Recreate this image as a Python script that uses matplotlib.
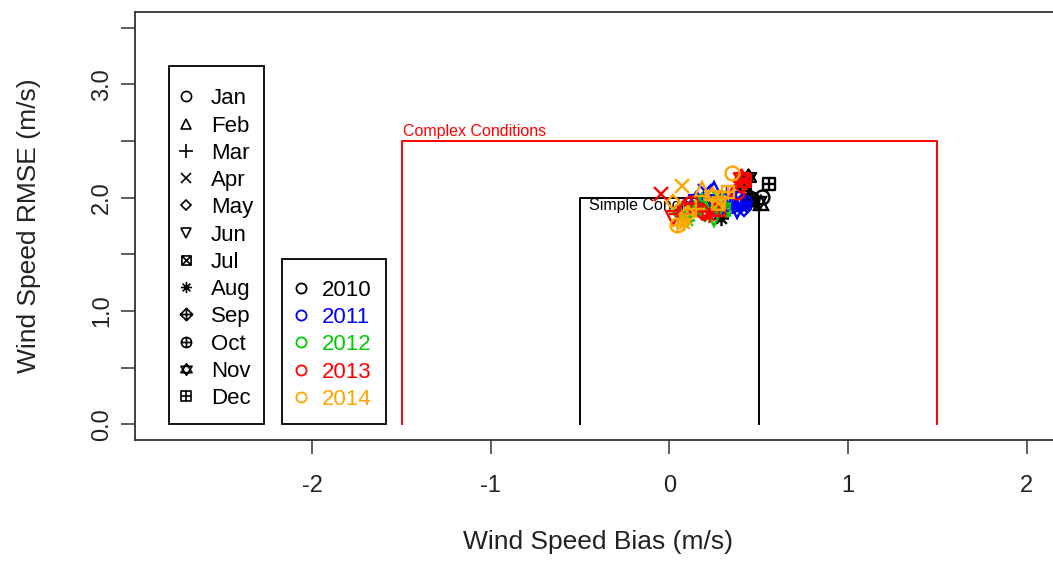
import numpy as np
from matplotlib import pyplot as plt
from matplotlib.path import Path

plt.rcParams['font.family'] = ['Liberation Sans', 'DejaVu Sans']

months = ["Jan", "Feb", "Mar", "Apr", "May", "Jun",
          "Jul", "Aug", "Sep", "Oct", "Nov", "Dec"]
years = ["2010", "2011", "2012", "2013", "2014"]
year_colors = ["black", "#0000FF", "#00CD00", "#FF0000", "#FFA500"]

# monthly wind speed bias / RMSE (m/s), Jan..Dec
bias_2010 = [0.52, 0.51, 0.45, 0.40, 0.44, 0.50, 0.42, 0.29, 0.45, 0.46, 0.44, 0.56]
rmse_2010 = [2.01, 1.95, 1.98, 1.93, 1.96, 1.94, 2.12, 1.82, 2.00, 1.99, 2.18, 2.12]
bias_2011 = [0.42, 0.25, 0.32, 0.20, 0.42, 0.38, 0.26, 0.35, 0.40, 0.28, 0.15, 0.37]
rmse_2011 = [1.96, 2.08, 2.03, 2.06, 1.90, 1.88, 1.97, 1.93, 1.95, 1.92, 1.99, 2.00]
bias_2012 = [0.22, 0.18, 0.12, 0.28, 0.20, 0.25, 0.30, 0.10, 0.16, 0.06, 0.27, 0.14]
rmse_2012 = [1.93, 1.97, 1.84, 2.00, 1.86, 1.81, 1.90, 1.80, 1.93, 1.88, 1.95, 1.89]
bias_2013 = [0.38, 0.08, 0.05, -0.05, 0.40, 0.02, 0.42, 0.22, 0.18, 0.12, 0.40, 0.28]
rmse_2013 = [2.05, 1.92, 1.86, 2.03, 2.10, 1.82, 2.16, 1.85, 1.88, 1.95, 2.18, 1.89]
bias_2014 = [0.35, 0.18, 0.15, 0.07, 0.02, 0.30, 0.27, 0.08, 0.10, 0.04, 0.24, 0.33]
rmse_2014 = [2.22, 2.08, 1.90, 2.10, 1.96, 1.99, 1.95, 1.78, 1.86, 1.76, 2.02, 2.05]

bias_all = [bias_2010, bias_2011, bias_2012, bias_2013, bias_2014]
rmse_all = [rmse_2010, rmse_2011, rmse_2012, rmse_2013, rmse_2014]

# (bias limit, rmse limit) of the two condition boxes
simple_limits = (0.5, 2.0)
complex_limits = (1.5, 2.5)

# --- R-like point symbols (pch 1..12) ---
M, L, C = Path.MOVETO, Path.LINETO, Path.CLOSEPOLY
square = Path([(-1, -1), (1, -1), (1, 1), (-1, 1), (-1, -1)], [M, L, L, L, C])
cross = Path([(-1, -1), (1, 1), (-1, 1), (1, -1)], [M, L, M, L])
plus = Path([(-1, 0), (1, 0), (0, -1), (0, 1)], [M, L, M, L])
diag = Path([(-0.7, -0.7), (0.7, 0.7), (-0.7, 0.7), (0.7, -0.7)], [M, L, M, L])
diamond = Path([(-1, 0), (0, -1), (1, 0), (0, 1), (-1, 0)], [M, L, L, L, C])
circle = Path.unit_circle()
tri_up = Path([(0, 1), (-0.95, -0.55), (0.95, -0.55), (0, 1)], [M, L, L, C])
tri_dn = Path([(0, -1), (-0.95, 0.55), (0.95, 0.55), (0, -1)], [M, L, L, C])

month_markers = [
    "o", "^", "+", "x", "D", "v",
    Path.make_compound_path(square, cross),
    Path.make_compound_path(plus, diag),
    Path.make_compound_path(diamond, plus),
    Path.make_compound_path(circle, plus),
    Path.make_compound_path(tri_up, tri_dn),
    Path.make_compound_path(square, plus),
]
marker_scale = [1.0, 1.0, 1.3, 1.0, 0.75, 1.0, 0.9, 1.1, 1.2, 1.0, 1.15, 0.9]

fig = plt.figure(figsize=(10.53, 5.69), dpi=100)
ax = fig.add_axes([135 / 1053, 129 / 569, 926 / 1053, 428 / 569])

# R style axis ranges (4% padding)
x_lo, x_hi = -2.8, 2.0
y_lo, y_hi = 0.0, 3.5
xp = 0.04 * (x_hi - x_lo)
yp = 0.04 * (y_hi - y_lo)
ax.set_xlim(x_lo - xp, x_hi + xp)
ax.set_ylim(y_lo - yp, y_hi + yp)

# condition boxes
for (bx, by), col in [(complex_limits, "#FF0000"), (simple_limits, "black")]:
    ax.plot([-bx, -bx, bx, bx], [0, by, by, 0], color=col, lw=1.4, zorder=2)
ax.text(-complex_limits[0] + 0.01, complex_limits[1] + 0.015, "Complex Conditions",
        color="#FF0000", fontsize=11.5, va="bottom", ha="left", zorder=2)
ax.text(-simple_limits[0] + 0.05, simple_limits[1] - 0.105, "Simple Conditions",
        color="black", fontsize=11.5, va="baseline", ha="left", zorder=2)

# monthly points, one colour per year
for yi in range(len(years)):
    for mi in range(len(months)):
        ms = 10 * marker_scale[mi]
        ax.plot(bias_all[yi][mi], rmse_all[yi][mi], linestyle="none",
                marker=month_markers[mi], ms=ms, mfc="none",
                mec=year_colors[yi], mew=1.7, zorder=3)

# month legend
ax.add_patch(plt.Rectangle((-2.80, 0.0), 0.53, 3.16, fill=False, ec="black", lw=1.3, zorder=4))
step = 0.2407
for mi, name in enumerate(months):
    yy = 2.894 - mi * step
    ax.plot(-2.706, yy, linestyle="none", marker=month_markers[mi],
            ms=7.3 * marker_scale[mi], mfc="none", mec="black", mew=1.2, zorder=4)
    ax.text(-2.566, yy, name, fontsize=16, va="center_baseline", ha="left", zorder=4)

# year legend
ax.add_patch(plt.Rectangle((-2.17, 0.0), 0.585, 1.46, fill=False, ec="black", lw=1.3, zorder=4))
for yi, name in enumerate(years):
    yy = 1.204 - yi * step
    ax.plot(-2.062, yy, linestyle="none", marker="o", ms=7.3, mfc="none",
            mec=year_colors[yi], mew=1.3, zorder=4)
    ax.text(-1.944, yy, name, fontsize=16, va="center_baseline", ha="left",
            color=year_colors[yi], zorder=4)

ax.set_xticks([-2, -1, 0, 1, 2])
ax.set_xticklabels(["-2", "-1", "0", "1", "2"])
yt = np.arange(0, 3.51, 0.5)
ax.set_yticks(yt)
ax.set_yticklabels(["%.1f" % v if v % 1 == 0 else "" for v in yt], rotation=90, va="center")
ax.tick_params(axis="both", direction="out", length=10, width=1.1, colors="#333333",
               labelcolor="#222222", labelsize=17)
ax.tick_params(axis="x", pad=15)
ax.tick_params(axis="y", pad=6)
for s in ax.spines.values():
    s.set_color("#333333")
    s.set_linewidth(1.3)

ax.set_xlabel("Wind Speed Bias (m/s)", fontsize=19, labelpad=24, color="#222222")
ax.set_ylabel("Wind Speed RMSE (m/s)", fontsize=19, labelpad=36, color="#222222")

fig.savefig("out.png", dpi=100)
